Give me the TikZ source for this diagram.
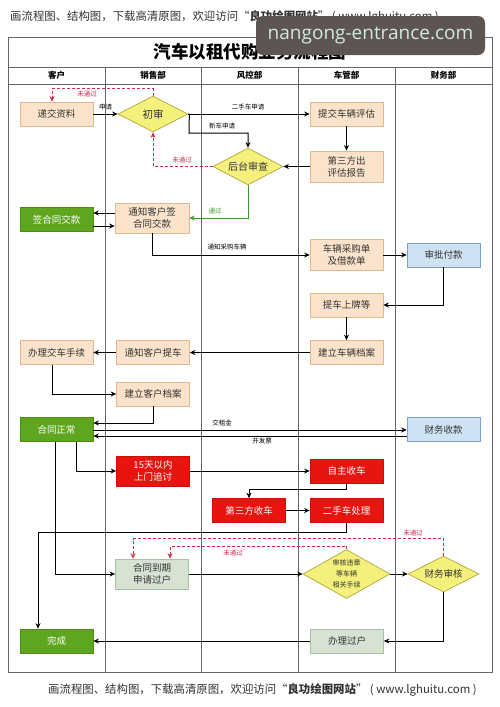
\documentclass[tikz,border=0pt]{standalone}
\usepackage{fontspec}
\setmainfont{Noto Sans CJK SC}
\newfontfamily\wmfont{Open Sans}
\usetikzlibrary{shapes.geometric,arrows.meta}
\definecolor{peachF}{HTML}{FBE3CB}
\definecolor{peachD}{HTML}{E2B98E}
\definecolor{yelF}{HTML}{F3F07C}
\definecolor{yelD}{HTML}{B3A83A}
\definecolor{grnF}{HTML}{5EA61E}
\definecolor{grnD}{HTML}{4E8C17}
\definecolor{redF}{HTML}{E8140F}
\definecolor{redD}{HTML}{C80F0B}
\definecolor{bluF}{HTML}{CFE2F3}
\definecolor{bluD}{HTML}{7FA0C8}
\definecolor{lgF}{HTML}{D6E3D2}
\definecolor{lgD}{HTML}{A8C0A4}
\definecolor{dashR}{HTML}{D42A4C}
\definecolor{passG}{HTML}{3A9A2A}
\definecolor{frameC}{HTML}{666666}
\definecolor{txtC}{HTML}{333333}
\definecolor{wmBg}{HTML}{5E5553}
\definecolor{wmTx}{HTML}{CFEBDC}
\begin{document}
\begin{tikzpicture}[x=1pt,y=-1pt,
  basebox/.style={minimum width=73pt, minimum height=24pt, inner sep=0pt, align=center,
    line width=0.7pt, font=\fontsize{9.5pt}{12pt}\selectfont},
  pbox/.style={basebox, draw=peachD, fill=peachF, text=txtC},
  gbox/.style={basebox, draw=grnD, fill=grnF, text=white},
  rbox/.style={basebox, draw=redD, fill=redF, text=white},
  bbox/.style={basebox, draw=bluD, fill=bluF, text=txtC},
  lgbox/.style={basebox, draw=lgD, fill=lgF, text=txtC},
  ydia/.style={diamond, aspect=1.8, inner sep=0pt, draw=yelD, fill=yelF, line width=0.7pt,
    align=center, text=txtC, font=\fontsize{10pt}{12pt}\selectfont},
  arr/.style={draw=black, line width=1pt, -{Stealth[length=5.5pt,width=5pt]}},
  redd/.style={draw=dashR, line width=1pt, dash pattern=on 3pt off 2pt, -{Stealth[length=5.5pt,width=5pt]}},
  grnl/.style={draw=passG, line width=1pt, -{Stealth[length=5.5pt,width=5pt]}},
  lbl/.style={font=\fontsize{6.5pt}{7pt}\selectfont, text=black, inner sep=0pt},
  rlbl/.style={font=\fontsize{6.5pt}{7pt}\selectfont, text=dashR, inner sep=0pt},
  glbl/.style={font=\fontsize{6.5pt}{7pt}\selectfont, text=passG, inner sep=0pt},
  hdr/.style={font=\fontsize{8.5pt}{9pt}\selectfont\bfseries, text=black, inner sep=0pt},
  frm/.style={draw=frameC, line width=0.9pt},
  wline/.style={inner sep=0pt, text=txtC, font=\fontsize{11.4pt}{13pt}\selectfont}
]
\useasboundingbox (0,0) rectangle (500,707);
\fill[white] (0,0) rectangle (500,707);

% top / bottom watermark lines
\node[wline, anchor=west] (toptxt) at (10,16.5)
  {画流程图、结构图，下载高清原图，欢迎访问“{\bfseries 良功绘图网站}” ( www.lghuitu.com )};
\node[wline, anchor=west] (bottxt) at (48,690)
  {画流程图、结构图，下载高清原图，欢迎访问“{\bfseries 良功绘图网站}” ( www.lghuitu.com )};

% frame
\draw[frm] (8,37) rectangle (492,672);
\draw[frm] (8,67) -- (492,67);
\draw[frm] (8,84) -- (492,84);
\foreach \xx in {105,201,298,395} { \draw[frm, line width=0.8pt] (\xx,67) -- (\xx,672); }
\node[font=\fontsize{17.5pt}{20pt}\selectfont\bfseries, text=black, inner sep=0pt] (title) at (250,52) {汽车以租代购业务流程图};
\node[hdr] (h1) at (56.5,75.5) {客户};
\node[hdr] (h2) at (153,75.5) {销售部};
\node[hdr] (h3) at (249.5,75.5) {风控部};
\node[hdr] (h4) at (346.5,75.5) {车管部};
\node[hdr] (h5) at (443.5,75.5) {财务部};

% nodes
\node[pbox] (jz) at (56.5,114) {递交资料};
\node[ydia, minimum width=70pt, minimum height=36pt, font=\fontsize{10.5pt}{12pt}\selectfont] (cs) at (153,114) {初审};
\node[pbox] (tj) at (346.5,114) {提交车辆评估};
\node[ydia, minimum width=70pt, minimum height=37pt] (ht) at (248,166.5) {后台审查};
\node[pbox, minimum height=31pt] (dsf) at (346.5,166.5) {第三方出\\评估报告};
\node[pbox, minimum height=30pt, minimum width=74pt] (tz) at (152,218) {通知客户签\\合同交款};
\node[gbox] (qh) at (56.5,219.5) {签合同交款};
\node[pbox, minimum height=31pt] (cg) at (346.5,255) {车辆采购单\\及借款单};
\node[bbox] (sp) at (443.5,255) {审批付款};
\node[pbox] (tc) at (346.5,305) {提车上牌等};
\node[pbox] (jc) at (346.5,352.5) {建立车辆档案};
\node[pbox] (tk) at (153,352.5) {通知客户提车};
\node[pbox] (bl) at (56.5,352.5) {办理交车手续};
\node[pbox] (ka) at (153,394) {建立客户档案};
\node[gbox] (zc) at (56.5,429.5) {合同正常};
\node[bbox] (sk) at (443.5,429.5) {财务收款};
\node[rbox, minimum height=30pt] (zt) at (153,471) {15天以内\\上门追讨};
\node[rbox] (zs) at (346.5,471) {自主收车};
\node[rbox] (ds) at (249,510.5) {第三方收车};
\node[rbox] (es) at (346.5,510.5) {二手车处理};
\node[lgbox, minimum height=30pt] (dq) at (152,574) {合同到期\\申请过户};
\node[ydia, minimum width=87pt, minimum height=49pt, font=\fontsize{7pt}{11pt}\selectfont] (sh) at (346.5,574) {审核违章\\等车辆\\相关手续};
\node[ydia, minimum width=71pt, minimum height=36pt, font=\fontsize{9.5pt}{12pt}\selectfont] (cw) at (443.5,574) {财务审核};
\node[lgbox] (gh) at (347,641) {办理过户};
\node[gbox] (wc) at (56.5,641) {完成};

% connectors
\draw[arr] (jz.east) -- (cs.west);
\node[lbl] (l1) at (105.5,107.5) {申请};
\draw[redd] (cs.north) -- ++(0,-7) -| ([xshift=-4.5pt]jz.north);
\node[rlbl] (l2) at (87,94) {未通过};
\draw[arr] (cs.east) -- (tj.west);
\node[lbl] (l3) at (248,107.5) {二手车申请};
\coordinate (c1) at (189,133);
\draw[arr] (cs.east) -- ++(1,0) -- (c1) -| (ht.north);
\node[lbl] (l4) at (222,126.5) {新车申请};
\draw[arr] (tj.south) -- (dsf.north);
\draw[arr] (dsf.west) -- (ht.east);
\draw[redd] (ht.west) -| (cs.south);
\node[rlbl] (l5) at (182,160) {未通过};
\draw[grnl] (ht.south) |- (tz.east);
\node[glbl] (l6) at (215,211.5) {通过};
\draw[arr] (tz.west |- 0,213) -- (qh.east |- 0,213);
\draw[arr] (qh.east |- 0,226) -- (tz.west |- 0,226);
\draw[arr] (tz.south) |- (cg.west);
\node[lbl] (l7) at (227,247) {通知采购车辆};
\draw[arr] (cg.east) -- (sp.west);
\draw[arr] (sp.south) |- (tc.east);
\draw[arr] (tc.south) -- (jc.north);
\draw[arr] (jc.west) -- (tk.east);
\draw[arr] (tk.west) -- (bl.east);
\draw[arr] ([xshift=-4.5pt]bl.south) |- (ka.west);
\draw[arr] (ka.south) |- (zc.east |- 0,423);
\draw[arr] (zc.east |- 0,430) -- (sk.west |- 0,430);
\node[lbl] (l8) at (222,423) {交租金};
\draw[arr] (sk.west |- 0,436) -- (zc.east |- 0,436);
\node[lbl] (l9) at (262,441.5) {开发票};
\draw[arr] ([xshift=19.5pt]zc.south) |- (zt.west);
\draw[arr] (zt.east) -- (zs.west);
\draw[arr] (zs.south) -- ++(0,6) -| (ds.north);
\draw[arr] (ds.east) -- (es.west);
\draw[arr] (es.south) -- ++(0,9.5) -| ([xshift=-18.5pt]wc.north);
\draw[arr] ([xshift=-1.5pt]zc.south) |- (dq.west);
\draw[arr] (dq.east) -- (sh.west);
\draw[arr] (sh.east) -- (cw.west);
\draw[arr] (cw.south) |- (gh.east);
\draw[arr] (gh.west) -- (wc.east);
\draw[redd] (cw.north) -- ++(0,-17) -| ([xshift=-19pt]dq.north);
\node[rlbl] (l10) at (413,533) {未通过};
\draw[redd] (sh.north) -- ++(0,-3) -| ([xshift=18pt]dq.north);
\node[rlbl] (l11) at (233,553) {未通过};

% overlay watermark
\fill[wmBg, rounded corners=7pt] (256,16) rectangle (485,55);
\node[text=wmTx, font=\wmfont\fontsize{19pt}{22pt}\selectfont, inner sep=0pt] (wm) at (370.5,36) {nangong-entrance.com};
\end{tikzpicture}
\end{document}
